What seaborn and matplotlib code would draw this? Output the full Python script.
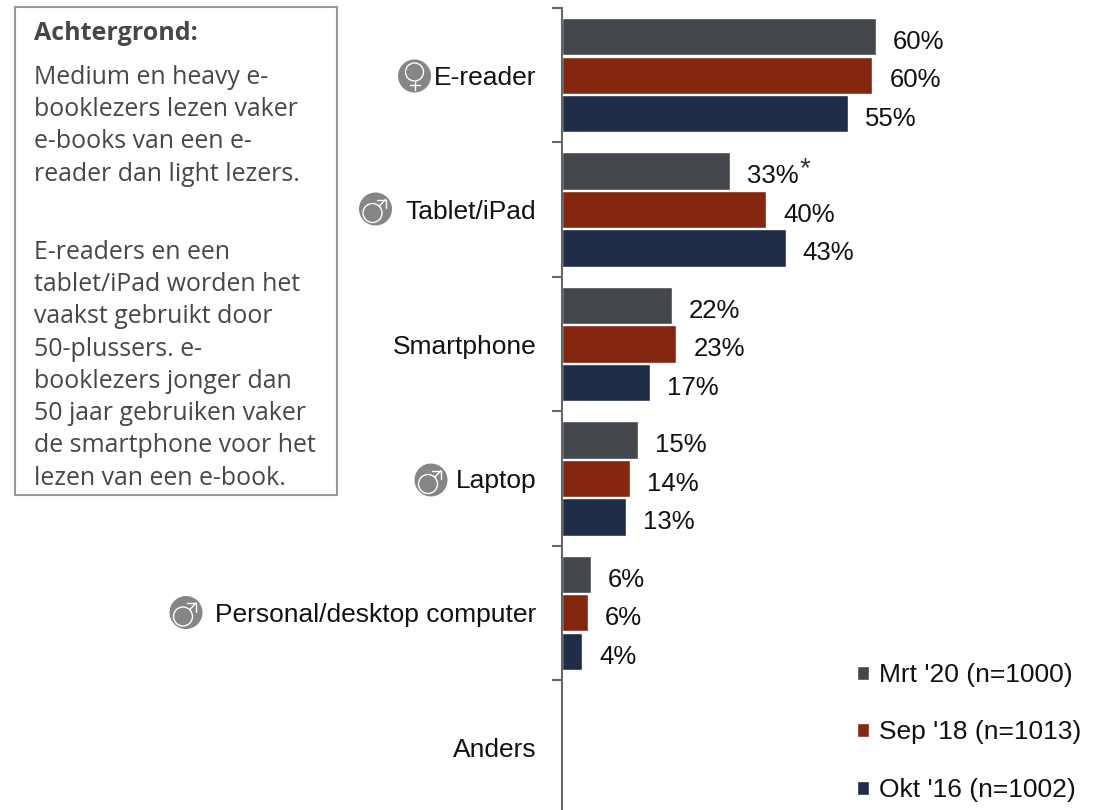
import matplotlib
matplotlib.use("Agg")
import matplotlib.pyplot as plt
from matplotlib.patches import Circle, Rectangle
import pandas as pd
import seaborn as sns

categories = ["E-reader", "Tablet/iPad", "Smartphone", "Laptop", "Personal/desktop computer", "Anders"]
periods = ["Mrt '20 (n=1000)", "Sep '18 (n=1013)", "Okt '16 (n=1002)"]
mrt20 = [60.4, 32.4, 21.2, 14.7, 5.5, None]
sep18 = [59.7, 39.3, 22.0, 13.1, 5.0, None]
okt16 = [55.0, 43.0, 17.0, 12.4, 3.9, None]
labels_mrt20 = ["60%", "33%", "22%", "15%", "6%", ""]
labels_sep18 = ["60%", "40%", "23%", "14%", "6%", ""]
labels_okt16 = ["55%", "43%", "17%", "13%", "4%", ""]
colors = ["#43464b", "#852710", "#1f2d48"]

box_title = "Achtergrond:"
box_para1 = ["Medium en heavy e-", "booklezers lezen vaker", "e-books van een e-",
             "reader dan light lezers."]
box_para2 = ["E-readers en een", "tablet/iPad worden het",
             "vaakst gebruikt door", "50-plussers. e-", "booklezers jonger dan",
             "50 jaar gebruiken vaker", "de smartphone voor het", "lezen van een e-book."]
gender_marks = [("f", 414.5, 76), ("m", 375.5, 209), ("m", 431, 480), ("m", 186, 612.5)]

W, H = 1107, 810
PITCH = 134.4
sns.set_theme(style="white")
plt.rcParams["font.family"] = ["Liberation Sans", "DejaVu Sans"]

df = pd.DataFrame({
    "cat": categories * 3,
    "period": [p for p in periods for _ in categories],
    "val": mrt20 + sep18 + okt16,
})

fig = plt.figure(figsize=(W / 100, H / 100), dpi=100, facecolor="white")
ax = fig.add_axes([562 / W, 0, 1 - 562 / W, 1 - 8 / H])
sns.barplot(data=df, y="cat", x="val", hue="period", order=categories, hue_order=periods,
            palette=colors, width=0.86, gap=0.03, errorbar=None, saturation=1, ax=ax)
ax.set_xlim(0, (W - 562) / 5.2)
ax.set_ylim((H - 8) / PITCH - 0.5, -0.5)
ax.set_xlabel("")
ax.set_ylabel("")
ax.set_xticks([])
for s in ("top", "right", "bottom"):
    ax.spines[s].set_visible(False)
ax.spines["left"].set_color("#666666")
ax.spines["left"].set_linewidth(1.5)

ax.set_yticks(range(len(categories)))
ax.set_yticklabels(categories, fontsize=19, color="#111111")
ax.set_yticks([i - 0.5 for i in range(len(categories))], minor=True)
ax.tick_params(axis="y", which="major", length=0, pad=18.5)
ax.tick_params(axis="y", which="minor", length=7.5, width=1.5, color="#666666", left=True)
for t in ax.get_yticklabels():
    t.set_y(t.get_position()[1])

for cont, labs in zip(ax.containers, [labels_mrt20, labels_sep18, labels_okt16]):
    texts = ax.bar_label(cont, labels=labs[:len(cont)], padding=12.2, fontsize=18.5, color="#111111")
    for t in texts:
        t.xyann = (t.xyann[0], t.xyann[1] - 3.8)

handles, leg_labels = ax.get_legend_handles_labels()
ax.legend(handles, leg_labels, loc="lower left", bbox_to_anchor=((857 - 562) / (W - 562), 8.0 / (H - 8)),
          frameon=False, fontsize=19, handlelength=0.44, handleheight=0.44, handletextpad=0.38,
          labelspacing=1.27, borderaxespad=0, borderpad=0, labelcolor="#111111")

over = fig.add_axes([0, 0, 1, 1], facecolor="none")
over.set_xlim(0, W)
over.set_ylim(H, 0)
over.axis("off")
over.add_patch(Rectangle((15, 7), 322, 488, fc="white", ec="#999999", lw=1.5))
over.text(34, 34, box_title, family="Open Sans", weight="bold", fontsize=18, color="#44474c", va="center")
over.text(34, 65, "\n".join(box_para1), family="Open Sans", fontsize=17.9, color="#44474c",
          va="top", linespacing=1.38)
over.text(34, 240, "\n".join(box_para2), family="Open Sans", fontsize=17.9, color="#44474c",
          va="top", linespacing=1.38)
for kind, x, y in gender_marks:
    over.add_patch(Circle((x, y), 16.5, fc="#868686", ec="none"))
    if kind == "f":
        over.add_patch(Circle((x, y - 4), 9, fc="none", ec="white", lw=1))
        over.plot([x, x], [y + 5, y + 14], color="white", lw=1)
        over.plot([x - 5, x + 5], [y + 9, y + 9], color="white", lw=1)
    else:
        over.add_patch(Circle((x - 3, y + 4), 9.5, fc="none", ec="white", lw=1))
        over.plot([x + 3.8, x + 10], [y - 2.8, y - 9.5], color="white", lw=1)
        over.plot([x + 1, x + 10, x + 10], [y - 9.5, y - 9.5, y - 1], color="white", lw=1)
over.set_xlim(0, W)
over.set_ylim(H, 0)
over.text(805, 169, "*", fontsize=20, color="#333333", ha="center", va="center")

fig.savefig("out.png", dpi=100)
